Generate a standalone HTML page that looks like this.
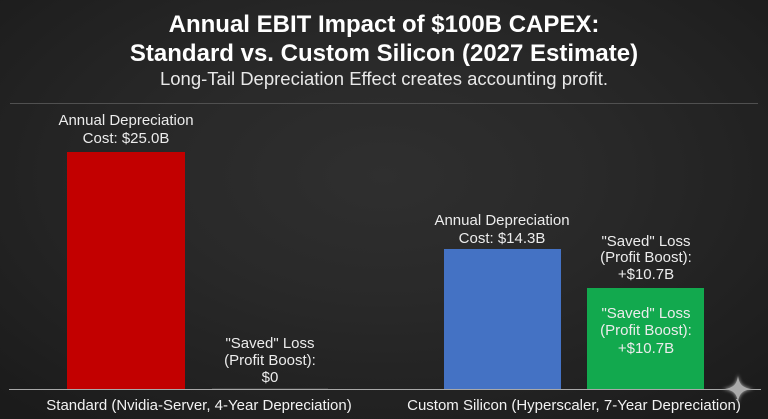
<!DOCTYPE html>
<html>
<head>
<meta charset="utf-8">
<style>
  html, body { margin:0; padding:0; }
  body {
    width:768px; height:419px; overflow:hidden; position:relative;
    font-family:"Liberation Sans", Arial, sans-serif;
    background: radial-gradient(ellipse 70% 75% at 50% 42%, #2f2f2f 0%, #292929 40%, #202020 80%, #1b1b1b 100%);
  }
  .t { position:absolute; left:0; width:768px; text-align:center; white-space:nowrap; }
  .title { font-weight:bold; font-size:24px; line-height:29px; color:#ffffff; }
  .sub { font-size:18.5px; line-height:20px; color:#e8e8e8; }
  .lbl { position:absolute; text-align:center; font-size:15px; color:#ececec; white-space:nowrap; }
  .bar { position:absolute; }
  .cat { position:absolute; font-size:15px; line-height:18px; color:#f2f2f2; white-space:nowrap; text-align:center; }
</style>
</head>
<body>
  <div class="t title" style="top:10px;">Annual EBIT Impact of $100B CAPEX:</div>
  <div class="t title" style="top:39px;">Standard vs. Custom Silicon (2027 Estimate)</div>
  <div class="t sub" style="top:69px;">Long-Tail Depreciation Effect creates accounting profit.</div>

  <div style="position:absolute; left:10px; top:103px; width:748px; height:1px; background:#505050;"></div>

  <!-- bars -->
  <div class="bar" style="left:67px; top:152px; width:118px; height:237px; background:#c20000;"></div>
  <div class="bar" style="left:212px; top:388px; width:116px; height:1px; background:#3a3a3a;"></div>
  <div class="bar" style="left:444px; top:249px; width:117px; height:140px; background:#4472c4;"></div>
  <div class="bar" style="left:587px; top:288px; width:117px; height:101px; background:#12a94e;"></div>

  <!-- axis -->
  <div style="position:absolute; left:9px; top:389px; width:752px; height:1px; background:#a8a8a8;"></div>

  <!-- bar labels -->
  <div class="lbl" style="left:26px; width:200px; top:111.5px; line-height:18px;">Annual Depreciation<br>Cost: $25.0B</div>
  <div class="lbl" style="left:170px; width:200px; top:334.5px; line-height:17px;">"Saved" Loss<br>(Profit Boost):<br>$0</div>
  <div class="lbl" style="left:402px; width:200px; top:211.5px; line-height:18px;">Annual Depreciation<br>Cost: $14.3B</div>
  <div class="lbl" style="left:546px; width:200px; top:233.5px; line-height:16.7px;">"Saved" Loss<br>(Profit Boost):<br>+$10.7B</div>
  <div class="lbl" style="left:546px; width:200px; top:304.5px; line-height:17.5px;">"Saved" Loss<br>(Profit Boost):<br>+$10.7B</div>

  <!-- category labels -->
  <div class="cat" style="left:0px; width:398px; top:397px;">Standard (Nvidia-Server, 4-Year Depreciation)</div>
  <div class="cat" style="left:374px; width:400px; top:397px;">Custom Silicon (Hyperscaler, 7-Year Depreciation)</div>

  <!-- sparkle -->
  <svg style="position:absolute; left:718px; top:371px;" width="40" height="38" viewBox="0 0 40 38">
    <defs>
      <filter id="g" x="-50%" y="-50%" width="200%" height="200%"><feGaussianBlur stdDeviation="1.5"/></filter>
    </defs>
    <path d="M20 3 C21.5 12 24 16 36 18 C24 20 21.5 24 20 33 C18.5 24 16 20 4 18 C16 16 18.5 12 20 3 Z" fill="#8c8c8c" filter="url(#g)"/>
    <path d="M20 5 C21.3 12.5 23.5 16.3 33 18 C23.5 19.7 21.3 23.5 20 31 C18.7 23.5 16.5 19.7 7 18 C16.5 16.3 18.7 12.5 20 5 Z" fill="#aaaaaa"/>
  </svg>
</body>
</html>
